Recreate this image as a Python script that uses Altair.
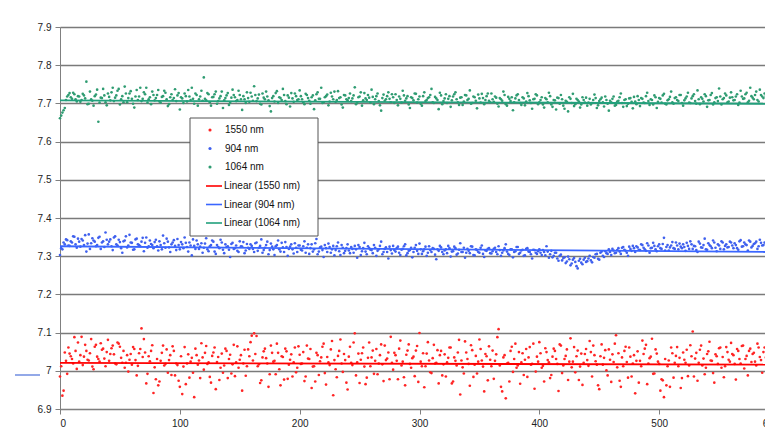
import altair as alt
import pandas as pd

# readings at even positions and at odd positions
x_even = list(range(0, 592, 2))
x_odd = list(range(1, 591, 2))

red_1550_even = [
    6.985, 6.935, 7.048, 6.992, 7.045, 7.031, 7.088, 7.005, 7.024, 7.089, 7.037, 7.052, 7.027, 7.083, 7.004, 7.068, 7.031, 7.072, 7.058, 7.012,
    7.081, 7.044, 7.066, 7.019, 7.074, 7.063, 7.021, 7.008, 7.041, 7.029, 7.016, 7.057, 6.988, 7.046, 7.111, 7.083, 6.967, 7.038, 7.052, 6.942,
    6.978, 6.962, 7.026, 7.066, 7.018, 6.995, 7.041, 7.064, 6.988, 7.015, 6.958, 6.939, 7.062, 7.019, 6.982, 7.034, 6.931, 7.041, 7.027, 7.072,
    7.003, 7.065, 7.022, 6.969, 7.048, 6.952, 7.036, 7.008, 6.995, 7.058, 6.981, 7.042, 7.017, 6.986, 7.064, 7.029, 6.948, 7.055, 7.012, 7.038,
    7.092, 7.098, 7.091, 7.017, 6.975, 7.051, 7.033, 6.958, 7.066, 7.024, 6.991, 7.047, 6.962, 7.036, 7.058, 6.979, 7.029, 6.985, 7.061, 7.008,
    7.042, 7.019, 6.973, 7.066, 7.031, 6.955, 7.012, 7.047, 6.989, 7.035, 7.071, 6.964, 7.022, 7.056, 6.936, 7.004, 7.039, 7.082, 6.997, 7.028,
    6.951, 7.063, 7.015, 7.098, 7.022, 6.968, 7.046, 7.011, 6.982, 7.074, 7.035, 6.992, 7.057, 7.019, 7.069, 6.973, 7.028, 7.048, 7.089, 7.003,
    7.041, 6.978, 7.079, 7.024, 6.962, 7.053, 7.018, 7.033, 6.986, 7.065, 7.099, 7.012, 6.957, 7.045, 7.027, 6.994, 7.068, 7.021, 6.967, 7.052,
    7.017, 6.985, 7.034, 7.061, 6.972, 7.026, 7.048, 6.938, 7.009, 7.077, 7.031, 6.961, 7.054, 7.016, 6.993, 7.082, 7.027, 6.946, 7.038, 7.064,
    7.012, 6.979, 7.043, 7.109, 6.958, 7.035, 6.928, 7.021, 7.052, 6.997, 7.071, 7.014, 6.966, 7.046, 7.029, 6.984, 7.062, 7.018, 6.953, 7.037,
    7.075, 7.008, 6.972, 7.049, 7.022, 6.989, 7.058, 7.031, 6.947, 7.066, 7.014, 7.039, 6.976, 7.085, 7.024, 6.996, 7.053, 7.011, 6.963, 7.044,
    7.028, 7.078, 6.985, 7.041, 7.016, 6.952, 7.069, 7.034, 7.001, 7.056, 6.971, 7.023, 7.093, 7.046, 6.958, 7.012, 7.063, 6.982, 7.037, 7.019,
    6.941, 7.051, 7.026, 7.079, 7.058, 6.965, 7.033, 7.084, 6.993, 7.045, 7.018, 6.978, 6.931, 6.962, 7.027, 7.061, 6.982, 7.039, 7.012, 6.955,
    7.048, 7.021, 6.986, 7.067, 7.103, 7.032, 6.974, 7.055, 7.014, 6.991, 7.044, 7.076, 7.026, 6.969, 7.038, 7.059, 7.008, 6.983, 7.062, 7.029,
    7.073, 7.041, 6.977, 7.052, 7.019, 7.066, 7.031, 6.988, 7.058, 7.044, 7.024, 7.071, 7.036, 6.995, 7.061, 7.042,
]
red_1550_odd = [
    7.012, 6.948, 7.026, 7.061, 7.038, 7.019, 7.052, 7.074, 7.041, 7.015, 7.068, 7.029, 7.046, 7.011, 7.063, 7.037, 7.024, 7.055, 7.032, 7.049,
    7.026, 7.059, 7.043, 7.017, 7.071, 7.034, 7.052, 7.021, 6.998, 7.044, 7.062, 7.028, 7.013, 7.057, 7.036, 7.048, 6.992, 7.025, 7.067, 7.009,
    7.031, 6.972, 7.047, 7.014, 7.056, 7.028, 6.989, 7.052, 7.019, 6.974, 7.038, 7.011, 6.965, 7.043, 7.024, 6.995, 7.058, 7.016, 6.981, 7.035,
    7.047, 7.018, 6.984, 7.039, 7.061, 7.023, 6.976, 7.045, 7.014, 7.052, 7.031, 6.993, 7.068, 7.022, 7.008, 7.041, 7.019, 6.987, 7.056, 7.075,
    7.027, 7.044, 7.012, 6.968, 7.035, 7.058, 7.019, 6.991, 7.047, 7.026, 7.071, 7.004, 7.038, 6.977, 7.051, 7.016, 7.043, 7.022, 6.996, 7.064,
    7.018, 7.049, 6.985, 7.032, 7.057, 7.011, 6.972, 7.041, 7.025, 7.063, 6.994, 7.036, 7.015, 7.078, 7.028, 6.983, 7.052, 7.019, 7.044, 6.969,
    7.037, 7.021, 7.074, 6.988, 7.045, 7.029, 7.061, 6.965, 7.034, 7.012, 7.053, 7.026, 6.991, 7.041, 7.017, 7.066, 7.032, 6.978, 7.021, 7.047,
    7.026, 7.058, 7.014, 6.983, 7.042, 7.069, 7.008, 7.037, 7.053, 6.971, 7.024, 7.046, 7.012, 7.075, 6.996, 7.033, 7.019, 7.054, 7.041, 6.988,
    7.043, 7.022, 7.061, 6.967, 7.035, 7.014, 7.081, 7.027, 6.993, 7.048, 7.018, 7.067, 6.984, 7.039, 7.024, 7.057, 7.011, 7.044, 6.975, 7.029,
    7.053, 7.026, 7.088, 7.014, 6.946, 7.041, 7.019, 6.972, 7.063, 7.031, 7.008, 7.049, 7.022, 6.989, 7.057, 7.035, 7.016, 7.071, 6.998, 7.024,
    7.046, 7.013, 7.059, 7.028, 6.981, 7.037, 7.052, 7.018, 7.069, 6.994, 7.031, 7.056, 7.024, 7.009, 7.062, 7.038, 6.976, 7.045, 7.021, 7.057,
    7.013, 7.049, 7.066, 7.025, 6.962, 7.038, 7.016, 7.054, 6.988, 7.029, 7.043, 7.071, 7.009, 6.974, 7.035, 7.052, 7.023, 7.061, 6.985, 7.041,
    7.026, 6.969, 7.012, 7.044, 7.068, 7.019, 7.037, 6.992, 7.056, 7.024, 6.948, 6.975, 7.031, 7.012, 6.958, 7.046, 7.021, 7.062, 7.034, 6.981,
    7.029, 7.055, 7.014, 7.038, 6.985, 7.047, 7.021, 7.066, 7.032, 7.008, 7.051, 7.027, 6.994, 7.043, 7.018, 7.061, 7.036, 7.012, 7.049, 7.024,
    7.044, 7.018, 7.057, 7.031, 7.065, 7.006, 7.039, 7.052, 7.023, 7.047, 7.014, 7.061, 7.028, 7.049, 7.035,
]

blue_904_even = [
    7.303, 7.318, 7.331, 7.342, 7.327, 7.336, 7.351, 7.322, 7.338, 7.345, 7.329, 7.312, 7.357, 7.334, 7.341, 7.326, 7.348, 7.319, 7.339, 7.362,
    7.331, 7.344, 7.316, 7.352, 7.328, 7.337, 7.309, 7.341, 7.323, 7.356, 7.335, 7.318, 7.346, 7.329, 7.338, 7.313, 7.349, 7.326, 7.332, 7.321,
    7.343, 7.315, 7.329, 7.354, 7.322, 7.338, 7.311, 7.336, 7.327, 7.345, 7.318, 7.331, 7.349, 7.324, 7.336, 7.302, 7.327, 7.341, 7.319, 7.334,
    7.322, 7.347, 7.313, 7.329, 7.338, 7.306, 7.324, 7.343, 7.317, 7.331, 7.326, 7.298, 7.335, 7.321, 7.314, 7.339, 7.325, 7.308, 7.332, 7.319,
    7.327, 7.311, 7.336, 7.322, 7.344, 7.316, 7.329, 7.305, 7.333, 7.318, 7.326, 7.341, 7.312, 7.323, 7.337, 7.301, 7.325, 7.318, 7.334, 7.311,
    7.328, 7.315, 7.339, 7.322, 7.306, 7.331, 7.318, 7.345, 7.312, 7.325, 7.298, 7.321, 7.333, 7.309, 7.327, 7.316, 7.336, 7.303, 7.322, 7.314,
    7.331, 7.308, 7.319, 7.327, 7.296, 7.324, 7.313, 7.335, 7.305, 7.321, 7.316, 7.329, 7.301, 7.318, 7.338, 7.311, 7.323, 7.294, 7.316, 7.327,
    7.312, 7.325, 7.303, 7.319, 7.331, 7.308, 7.316, 7.297, 7.322, 7.314, 7.333, 7.306, 7.318, 7.301, 7.326, 7.311, 7.319, 7.292, 7.314, 7.323,
    7.305, 7.318, 7.327, 7.299, 7.313, 7.321, 7.307, 7.334, 7.311, 7.296, 7.319, 7.308, 7.325, 7.302, 7.316, 7.309, 7.328, 7.298, 7.314, 7.321,
    7.307, 7.319, 7.311, 7.326, 7.301, 7.315, 7.331, 7.306, 7.318, 7.297, 7.313, 7.324, 7.309, 7.317, 7.302, 7.321, 7.311, 7.294, 7.316, 7.306,
    7.318, 7.303, 7.311, 7.326, 7.296, 7.314, 7.301, 7.309, 7.288, 7.304, 7.295, 7.282, 7.299, 7.276, 7.291, 7.285, 7.268, 7.293, 7.279, 7.296,
    7.287, 7.301, 7.284, 7.296, 7.306, 7.291, 7.312, 7.298, 7.308, 7.318, 7.303, 7.315, 7.309, 7.321, 7.306, 7.324, 7.314, 7.301, 7.319, 7.327,
    7.311, 7.323, 7.316, 7.329, 7.318, 7.334, 7.309, 7.322, 7.327, 7.313, 7.331, 7.319, 7.348, 7.324, 7.315, 7.328, 7.321, 7.336, 7.318, 7.325,
    7.331, 7.314, 7.327, 7.339, 7.319, 7.326, 7.311, 7.333, 7.322, 7.346, 7.317, 7.329, 7.321, 7.336, 7.313, 7.328, 7.339, 7.318, 7.331, 7.324,
    7.336, 7.321, 7.329, 7.317, 7.342, 7.326, 7.331, 7.315, 7.338, 7.327, 7.334, 7.319, 7.343, 7.328, 7.336, 7.322,
]
blue_904_odd = [
    7.321, 7.336, 7.344, 7.328, 7.339, 7.352, 7.331, 7.346, 7.325, 7.341, 7.355, 7.333, 7.319, 7.347, 7.338, 7.329, 7.351, 7.336, 7.324, 7.343,
    7.338, 7.326, 7.349, 7.331, 7.343, 7.321, 7.339, 7.352, 7.328, 7.336, 7.317, 7.344, 7.331, 7.326, 7.348, 7.335, 7.322, 7.341, 7.329, 7.337,
    7.326, 7.339, 7.318, 7.334, 7.346, 7.323, 7.331, 7.342, 7.316, 7.329, 7.337, 7.321, 7.335, 7.312, 7.328, 7.344, 7.319, 7.331, 7.325, 7.309,
    7.333, 7.318, 7.326, 7.341, 7.312, 7.329, 7.321, 7.336, 7.308, 7.324, 7.317, 7.332, 7.319, 7.328, 7.311, 7.326, 7.337, 7.315, 7.322, 7.331,
    7.319, 7.334, 7.314, 7.327, 7.309, 7.322, 7.338, 7.316, 7.325, 7.303, 7.329, 7.318, 7.335, 7.311, 7.324, 7.319, 7.331, 7.307, 7.322, 7.328,
    7.317, 7.326, 7.309, 7.331, 7.321, 7.312, 7.334, 7.305, 7.323, 7.316, 7.329, 7.311, 7.324, 7.318, 7.302, 7.326, 7.313, 7.329, 7.308, 7.321,
    7.315, 7.324, 7.309, 7.318, 7.329, 7.303, 7.321, 7.312, 7.326, 7.317, 7.308, 7.322, 7.314, 7.327, 7.305, 7.319, 7.311, 7.325, 7.307, 7.316,
    7.321, 7.309, 7.317, 7.326, 7.302, 7.314, 7.322, 7.311, 7.329, 7.306, 7.318, 7.313, 7.325, 7.309, 7.316, 7.321, 7.304, 7.318, 7.327, 7.311,
    7.315, 7.308, 7.321, 7.312, 7.325, 7.304, 7.317, 7.311, 7.322, 7.309, 7.314, 7.326, 7.303, 7.318, 7.311, 7.322, 7.306, 7.315, 7.319, 7.308,
    7.313, 7.322, 7.305, 7.316, 7.309, 7.321, 7.312, 7.303, 7.318, 7.311, 7.324, 7.306, 7.315, 7.301, 7.319, 7.312, 7.305, 7.317, 7.309, 7.313,
    7.309, 7.316, 7.302, 7.312, 7.305, 7.297, 7.309, 7.294, 7.301, 7.289, 7.297, 7.286, 7.292, 7.281, 7.295, 7.274, 7.288, 7.283, 7.291, 7.285,
    7.294, 7.289, 7.298, 7.305, 7.293, 7.309, 7.301, 7.313, 7.306, 7.311, 7.319, 7.308, 7.316, 7.312, 7.322, 7.317, 7.309, 7.325, 7.314, 7.321,
    7.326, 7.317, 7.331, 7.322, 7.314, 7.328, 7.321, 7.335, 7.318, 7.326, 7.321, 7.332, 7.315, 7.329, 7.323, 7.337, 7.319, 7.328, 7.333, 7.321,
    7.324, 7.335, 7.319, 7.331, 7.327, 7.316, 7.338, 7.323, 7.329, 7.318, 7.334, 7.326, 7.341, 7.322, 7.331, 7.319, 7.336, 7.327, 7.323, 7.338,
    7.328, 7.334, 7.321, 7.339, 7.325, 7.336, 7.329, 7.341, 7.323, 7.332, 7.338, 7.326, 7.335, 7.329, 7.333,
]

green_1064_even = [
    7.661, 7.676, 7.688, 7.718, 7.727, 7.712, 7.724, 7.705, 7.718, 7.709, 7.721, 7.757, 7.699, 7.711, 7.694, 7.723, 7.652, 7.715, 7.738, 7.703,
    7.726, 7.708, 7.741, 7.715, 7.733, 7.697, 7.719, 7.744, 7.703, 7.726, 7.712, 7.689, 7.735, 7.718, 7.706, 7.729, 7.741, 7.711, 7.698, 7.722,
    7.714, 7.735, 7.702, 7.719, 7.728, 7.693, 7.716, 7.709, 7.737, 7.721, 7.684, 7.713, 7.726, 7.705, 7.718, 7.741, 7.699, 7.722, 7.711, 7.733,
    7.768, 7.708, 7.724, 7.694, 7.717, 7.731, 7.706, 7.719, 7.688, 7.714, 7.727, 7.702, 7.736, 7.716, 7.709, 7.722, 7.683, 7.711, 7.729, 7.704,
    7.718, 7.745, 7.706, 7.723, 7.697, 7.715, 7.731, 7.708, 7.679, 7.719, 7.727, 7.701, 7.714, 7.738, 7.706, 7.721, 7.692, 7.713, 7.726, 7.709,
    7.734, 7.711, 7.698, 7.722, 7.707, 7.716, 7.685, 7.724, 7.712, 7.741, 7.703, 7.719, 7.695, 7.728, 7.711, 7.704, 7.732, 7.716, 7.689, 7.721,
    7.708, 7.726, 7.713, 7.742, 7.701, 7.718, 7.694, 7.727, 7.709, 7.715, 7.736, 7.698, 7.719, 7.706, 7.681, 7.723, 7.711, 7.729, 7.703, 7.716,
    7.724, 7.695, 7.712, 7.733, 7.707, 7.719, 7.688, 7.714, 7.726, 7.702, 7.718, 7.694, 7.729, 7.709, 7.716, 7.738, 7.701, 7.713, 7.685, 7.721,
    7.706, 7.724, 7.712, 7.691, 7.718, 7.729, 7.703, 7.715, 7.696, 7.722, 7.709, 7.734, 7.701, 7.716, 7.687, 7.713, 7.725, 7.698, 7.719, 7.707,
    7.726, 7.704, 7.715, 7.692, 7.711, 7.731, 7.698, 7.717, 7.706, 7.682, 7.713, 7.724, 7.701, 7.716, 7.695, 7.727, 7.708, 7.686, 7.712, 7.721,
    7.703, 7.716, 7.689, 7.711, 7.728, 7.697, 7.709, 7.684, 7.714, 7.722, 7.694, 7.707, 7.679, 7.712, 7.725, 7.698, 7.709, 7.689, 7.716, 7.702,
    7.694, 7.712, 7.701, 7.723, 7.688, 7.706, 7.715, 7.692, 7.709, 7.681, 7.703, 7.718, 7.696, 7.707, 7.726, 7.691, 7.711, 7.699, 7.714, 7.687,
    7.705, 7.719, 7.693, 7.712, 7.701, 7.728, 7.696, 7.709, 7.721, 7.688, 7.714, 7.702, 7.725, 7.697, 7.711, 7.731, 7.699, 7.716, 7.706, 7.722,
    7.694, 7.713, 7.728, 7.701, 7.719, 7.706, 7.734, 7.698, 7.712, 7.724, 7.691, 7.709, 7.727, 7.703, 7.716, 7.739, 7.697, 7.714, 7.721, 7.705,
    7.729, 7.708, 7.718, 7.696, 7.733, 7.712, 7.724, 7.703, 7.741, 7.715, 7.722, 7.709, 7.736, 7.718, 7.726, 7.711,
]
green_1064_odd = [
    7.668, 7.682, 7.709, 7.722, 7.716, 7.728, 7.711, 7.719, 7.704, 7.725, 7.713, 7.698, 7.731, 7.707, 7.719, 7.736, 7.702, 7.714, 7.721, 7.695,
    7.717, 7.729, 7.706, 7.721, 7.738, 7.711, 7.703, 7.726, 7.714, 7.732, 7.699, 7.718, 7.709, 7.741, 7.712, 7.724, 7.702, 7.716, 7.731, 7.708,
    7.722, 7.705, 7.717, 7.733, 7.711, 7.698, 7.724, 7.714, 7.706, 7.727, 7.716, 7.701, 7.719, 7.735, 7.709, 7.712, 7.726, 7.694, 7.718, 7.707,
    7.712, 7.727, 7.703, 7.716, 7.724, 7.699, 7.713, 7.731, 7.708, 7.721, 7.696, 7.715, 7.722, 7.706, 7.733, 7.711, 7.719, 7.701, 7.714, 7.728,
    7.707, 7.722, 7.713, 7.699, 7.726, 7.711, 7.718, 7.693, 7.714, 7.705, 7.732, 7.716, 7.709, 7.722, 7.698, 7.715, 7.727, 7.704, 7.719, 7.711,
    7.719, 7.703, 7.725, 7.714, 7.699, 7.721, 7.708, 7.729, 7.712, 7.701, 7.716, 7.723, 7.705, 7.718, 7.731, 7.709, 7.714, 7.697, 7.722, 7.711,
    7.714, 7.706, 7.721, 7.698, 7.716, 7.729, 7.708, 7.713, 7.722, 7.702, 7.717, 7.711, 7.726, 7.695, 7.714, 7.707, 7.719, 7.712, 7.724, 7.701,
    7.709, 7.718, 7.702, 7.721, 7.713, 7.697, 7.716, 7.708, 7.725, 7.711, 7.699, 7.719, 7.706, 7.714, 7.722, 7.703, 7.717, 7.709, 7.728, 7.698,
    7.713, 7.701, 7.719, 7.708, 7.724, 7.711, 7.696, 7.716, 7.705, 7.721, 7.712, 7.699, 7.718, 7.707, 7.723, 7.702, 7.714, 7.709, 7.726, 7.703,
    7.711, 7.718, 7.699, 7.714, 7.707, 7.722, 7.694, 7.712, 7.716, 7.703, 7.721, 7.709, 7.696, 7.713, 7.705, 7.719, 7.701, 7.711, 7.724, 7.698,
    7.709, 7.697, 7.714, 7.703, 7.719, 7.691, 7.708, 7.715, 7.699, 7.711, 7.686, 7.704, 7.716, 7.701, 7.693, 7.712, 7.705, 7.697, 7.709, 7.715,
    7.702, 7.697, 7.709, 7.714, 7.695, 7.711, 7.703, 7.718, 7.699, 7.707, 7.712, 7.694, 7.705, 7.716, 7.701, 7.709, 7.693, 7.713, 7.704, 7.717,
    7.698, 7.709, 7.714, 7.702, 7.719, 7.706, 7.711, 7.697, 7.716, 7.704, 7.712, 7.721, 7.699, 7.708, 7.717, 7.703, 7.714, 7.709, 7.722, 7.701,
    7.708, 7.718, 7.702, 7.713, 7.724, 7.699, 7.711, 7.716, 7.705, 7.719, 7.708, 7.722, 7.697, 7.714, 7.706, 7.718, 7.711, 7.726, 7.703, 7.715,
    7.716, 7.709, 7.724, 7.702, 7.718, 7.713, 7.728, 7.707, 7.719, 7.711, 7.731, 7.705, 7.722, 7.714, 7.719,
]

# linear trend lines (end points)
trend_x = [0, 590]
trend_1550 = [7.021, 7.016]
trend_904 = [7.326, 7.311]
trend_1064 = [7.708, 7.699]

x_ticks = [0, 100, 200, 300, 400, 500, 600]
y_ticks = [6.9, 7.0, 7.1, 7.2, 7.3, 7.4, 7.5, 7.6, 7.7, 7.8, 7.9]

point_labels = ["1550 nm", "904 nm", "1064 nm"]
point_colors = ["#ff2424", "#3f60ee", "#2f9c72"]
line_labels = ["Linear (1550 nm)", "Linear (904 nm)", "Linear (1064 nm)"]
line_colors = ["#ff0000", "#3a66ff", "#22a07c"]

pts = pd.concat([
    pd.DataFrame({"x": x_even + x_odd, "y": red_1550_even + red_1550_odd, "series": point_labels[0]}),
    pd.DataFrame({"x": x_even + x_odd, "y": blue_904_even + blue_904_odd, "series": point_labels[1]}),
    pd.DataFrame({"x": x_even + x_odd, "y": green_1064_even + green_1064_odd, "series": point_labels[2]}),
], ignore_index=True)

trend = pd.concat([
    pd.DataFrame({"x": trend_x, "y": trend_1550, "fit": line_labels[0]}),
    pd.DataFrame({"x": trend_x, "y": trend_904, "fit": line_labels[1]}),
    pd.DataFrame({"x": trend_x, "y": trend_1064, "fit": line_labels[2]}),
], ignore_index=True)

xscale = alt.Scale(domain=[0, 600], nice=False, zero=False)
yscale = alt.Scale(domain=[6.9, 7.9], nice=False, zero=False)

FONT = "Liberation Sans"

xaxis = alt.Axis(values=x_ticks, title=None, grid=False, labelFont=FONT,
                 labelFontSize=10, labelColor="#222222", tickSize=5, labelPadding=4,
                 domainColor="#808080", tickColor="#808080", labelOverlap=False)
yaxis = alt.Axis(values=y_ticks, title=None, grid=True, format="~g", labelFont=FONT,
                 labelFontSize=10, labelColor="#222222", tickSize=5, labelPadding=4,
                 domainColor="#808080", tickColor="#808080", gridColor="#7a7a7a",
                 gridWidth=1.6, labelOverlap=False)

legend_points = alt.Legend(
    title=None, orient="none", legendX=140, legendY=93, padding=5,
    labelFont=FONT, labelFontSize=10, labelColor="#111111",
    symbolType="circle", symbolSize=10, labelOffset=10, rowPadding=8.5,
)
legend_lines = alt.Legend(
    title=None, orient="none", legendX=140, legendY=145, padding=5,
    labelFont=FONT, labelFontSize=10, labelColor="#111111",
    symbolType="stroke", symbolSize=256, symbolStrokeWidth=1.6, labelOffset=1, rowPadding=4.5,
)

points = alt.Chart(pts).mark_circle(size=7, opacity=1).encode(
    x=alt.X("x:Q", scale=xscale, axis=xaxis),
    y=alt.Y("y:Q", scale=yscale, axis=yaxis),
    color=alt.Color("series:N", scale=alt.Scale(domain=point_labels, range=point_colors),
                    legend=legend_points),
)

lines = alt.Chart(trend).mark_line(strokeWidth=1.8).encode(
    x=alt.X("x:Q", scale=xscale, axis=xaxis),
    y=alt.Y("y:Q", scale=yscale, axis=yaxis),
    stroke=alt.Stroke("fit:N", scale=alt.Scale(domain=line_labels, range=line_colors),
                      legend=legend_lines),
)

box_df = pd.DataFrame({"k": [1]})
legend_box = alt.Chart(box_df).mark_rect(fill="white", stroke="#555555", strokeWidth=1).encode(
    x=alt.value(130), x2=alt.value(258), y=alt.value(91), y2=alt.value(209)
)

artifact = alt.Chart(box_df).mark_rule(color="#4a6fd8", strokeWidth=1.2).encode(
    x=alt.value(-45), x2=alt.value(-20), y=alt.value(348)
)

chart = alt.layer(points, lines, legend_box, artifact).resolve_scale(
    color="independent", stroke="independent"
).properties(
    width=719, height=382,
    padding={"left": 52, "top": 19, "right": -14, "bottom": 20},
    autosize=alt.AutoSizeParams(type="none"),
).configure_view(fill="#c0c0c0", stroke=None).configure(background="white")

chart.save("out.html", embed_options={"renderer": "svg", "actions": False})
